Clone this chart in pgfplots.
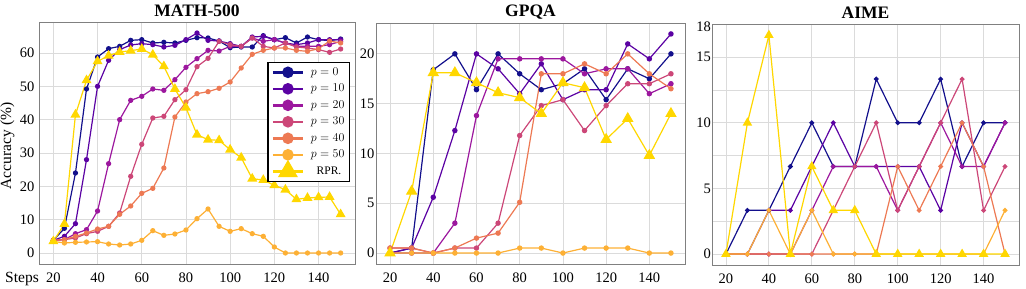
\documentclass[border=0pt]{standalone}
\usepackage{fontspec}
\setmainfont{Liberation Serif}
\usepackage{pgfplots}
\pgfplotsset{compat=1.18}
\usepackage{pgfplotstable}

\definecolor{c0}{HTML}{13108C}
\definecolor{c10}{HTML}{5B02A3}
\definecolor{c20}{HTML}{9C179E}
\definecolor{c30}{HTML}{CC4778}
\definecolor{c40}{HTML}{ED7953}
\definecolor{c50}{HTML}{FDB035}
\definecolor{cr}{HTML}{FFD700}

\pgfplotstableread{
x   p0   p10  p20  p30  p40  p50  rpr
20  3.8  3.8  3.8  3.8  3.8  3.5  3.5
25  7.4  5.0  4.0  4.0  4.0  3.0  8.7
30  24.0 8.8  5.8  4.5  5.0  3.2  41.5
35  49.2 28.0 7.0  5.8  6.0  3.3  51.8
40  58.8 50.0 12.6 6.5  7.2  3.4  57.5
45  61.3 57.8 26.8 8.0  8.0  2.7  59.2
50  62.0 61.0 40.0 12.0 11.6 2.4  60.3
55  63.8 62.4 45.8 23.0 14.1 2.7  60.7
60  64.0 62.8 47.0 32.6 17.9 3.8  61.2
65  63.0 62.5 49.2 40.5 19.4 6.7  59.5
70  63.2 61.8 48.8 41.0 25.5 5.3  56.0
75  63.0 62.3 52.0 46.0 40.8 5.7  49.2
80  63.8 64.0 55.7 49.0 45.3 6.9  43.6
85  64.6 66.0 58.3 55.9 47.8 10.3 35.5
90  64.5 63.8 60.8 58.4 48.4 13.2 34.0
95  63.6 63.6 60.6 63.5 49.4 8.0  33.8
100 61.6 62.8 62.0 62.5 51.3 6.5  31.0
105 61.8 62.0 62.0 62.0 55.5 7.3  28.6
110 61.8 64.8 64.5 64.5 59.6 5.8  22.3
115 65.2 65.0 63.5 62.0 60.8 5.0  21.9
120 64.0 64.0 64.0 61.5 61.5 1.8  20.3
125 64.6 63.0 63.0 63.0 61.5 0    19.0
130 63.0 62.5 62.0 61.8 60.8 0    16.1
135 64.8 63.0 62.0 61.5 60.5 0    16.5
140 64.0 64.0 62.0 61.0 61.3 0    16.7
145 63.7 64.0 62.5 60.2 63.6 0    16.8
150 64.2 64.0 63.5 61.2 63.0 0    11.6
}\mathdata

\pgfplotstableread{
x   p0   p10  p20  p30  p40  p50  rpr
20  0    0    0    0.5  0.5  0    0
30  0.5  0.5  0    0.5  0.5  0    6.2
40  18.4 5.6  0    0    0    0    18.1
50  20.0 12.3 3.0  0.5  0.5  0    18.1
60  16.4 20.0 13.8 0.5  1.5  0    17.1
70  20.0 18.5 19.5 3.0  2.0  0    16.1
80  18.0 16.0 19.5 11.8 5.1  0.5  15.6
90  16.4 19.0 19.5 14.8 18.0 0.5  14.0
100 17.0 15.4 19.5 15.4 18.0 0    17.1
110 18.5 16.4 18.0 12.3 19.0 0.5  16.6
120 15.4 16.4 18.5 14.8 18.0 0.5  11.4
130 18.5 21.0 18.5 17.0 20.0 0.5  13.5
140 17.5 19.5 16.0 17.0 18.0 0    9.8
150 20.0 22.0 17.0 18.0 16.5 0    14.0
}\gpqadata

\pgfplotstableread{
x   p0    p10   p20   p30   p40   p50   rpr
20  0     0     0     0     0     0     0
30  3.33  0     0     0     0     0     10
40  3.33  3.33  0     0     0     3.33  16.67
50  6.67  3.33  0     0     0     0     0
60  10    6.67  3.33  0     0     3.33  6.67
70  6.67  10    6.67  3.33  0     0     3.33
80  6.67  6.67  6.67  6.67  0     0     3.33
90  13.33 6.67  6.67  10    0     0     0
100 10    6.67  3.33  3.33  6.67  0     0
110 10    6.67  6.67  6.67  3.33  0     0
120 13.33 3.33  10    10    6.67  0     0
130 6.67  10    6.67  13.33 10    0     0
140 10    6.67  6.67  3.33  6.67  0     0
150 10    10    10    6.67  0     3.33  0
}\aimedata

\pgfplotsset{
  panel/.style={
    scale only axis, anchor=south west,
    xmin=13.5, xmax=156.5,
    xtick={20,40,...,140},
    grid=major,
    major grid style={draw=black!14, line width=0.8pt},
    minor grid style={draw=black!14, line width=0.8pt},
    axis line style={draw=black!50, line width=0.9pt},
    major tick length=0pt, minor tick length=0pt,
    tick style={draw=none},
    tick label style={font=\fontsize{14.5}{16}\selectfont},
    /pgf/number format/assume math mode=true,
    xticklabel style={anchor=base, yshift=-18.8pt},
  },
  ser/.style 2 args={#1, line width=1.2pt, mark=*, mark size=#2, mark options={solid}},
  tri/.style={cr, line width=1.2pt, mark=triangle*, mark size=#1, mark options={solid}},
  leg/.style={#1, line width=2.5pt, mark=*, mark size=4.5pt, mark options={solid, draw=#1, fill=#1}},
}

\begin{document}
\begin{tikzpicture}
\useasboundingbox (0pt,0pt) rectangle (1026pt,289pt);

% ---------------- MATH-500 ----------------
\begin{axis}[panel, at={(39pt,25pt)}, width=316pt, height=242pt,
  ymin=-3.3, ymax=69.3, ytick={0,10,...,60},
  yticklabel style={xshift=-1.2pt},
  legend cell align=left,
  legend image code/.code={
    \path[draw=none, fill=none] (0pt,-4pt) rectangle (30pt,4pt);
    \draw[overlay, fill=none, mark repeat=2, mark phase=2, #1] plot coordinates {(0pt,0pt) (15pt,0pt) (30pt,0pt)};
  },
  legend style={at={(1,1)}, anchor=north east, xshift=-5pt, yshift=-39.7pt,
    draw=black, line width=1.2pt,
    inner xsep=5pt, inner ysep=4.75pt, row sep=6pt,
    font=\fontsize{11.5}{13}\selectfont,
    nodes={inner xsep=0pt, inner ysep=0.5pt, text height=7.5pt, text depth=2pt},
    column sep=8pt},
]
\addplot[ser={c0}{2pt}, forget plot] table[x=x,y=p0] {\mathdata};
\addplot[ser={c10}{2pt}, forget plot] table[x=x,y=p10] {\mathdata};
\addplot[ser={c20}{2pt}, forget plot] table[x=x,y=p20] {\mathdata};
\addplot[ser={c30}{2pt}, forget plot] table[x=x,y=p30] {\mathdata};
\addplot[ser={c40}{2pt}, forget plot] table[x=x,y=p40] {\mathdata};
\addplot[ser={c50}{2pt}, forget plot] table[x=x,y=p50] {\mathdata};
\addplot[tri=4.6pt, forget plot] table[x=x,y=rpr] {\mathdata};
\addlegendimage{leg=c0}
\addlegendentry{$p=0$}
\addlegendimage{leg=c10}
\addlegendentry{$p=10$}
\addlegendimage{leg=c20}
\addlegendentry{$p=20$}
\addlegendimage{leg=c30}
\addlegendentry{$p=30$}
\addlegendimage{leg=c40}
\addlegendentry{$p=40$}
\addlegendimage{leg=c50}
\addlegendentry{$p=50$}
\addlegendimage{cr, line width=2.5pt, mark=triangle*, mark size=9pt, mark options={solid, draw=cr, fill=cr}}
\addlegendentry{\ \ RPR.}
\end{axis}

% ---------------- GPQA ----------------
\begin{axis}[panel, at={(376pt,25pt)}, width=309pt, height=241pt,
  ymin=-1.1, ymax=23.1, ytick={0,5,...,20},
  yticklabel style={xshift=1.8pt},
]
\addplot[ser={c0}{2.1pt}] table[x=x,y=p0] {\gpqadata};
\addplot[ser={c10}{2.1pt}] table[x=x,y=p10] {\gpqadata};
\addplot[ser={c20}{2.1pt}] table[x=x,y=p20] {\gpqadata};
\addplot[ser={c30}{2.1pt}] table[x=x,y=p30] {\gpqadata};
\addplot[ser={c40}{2.1pt}] table[x=x,y=p40] {\gpqadata};
\addplot[ser={c50}{2.1pt}] table[x=x,y=p50] {\gpqadata};
\addplot[tri=5.5pt] table[x=x,y=rpr] {\gpqadata};
\end{axis}

% ---------------- AIME ----------------
\begin{axis}[panel, at={(712pt,24pt)}, width=307pt, height=240.7pt,
  ymin=-0.833, ymax=17.5, ytick={0,5,10,15},
  minor ytick={2.5,7.5,12.5},
  grid=both,
  extra y ticks={17.35}, extra y tick labels={18},
  extra y tick style={grid=none},
  yticklabel style={xshift=2.3pt},
]
\addplot[ser={c0}{1.8pt}] table[x=x,y=p0] {\aimedata};
\addplot[ser={c10}{1.8pt}] table[x=x,y=p10] {\aimedata};
\addplot[ser={c20}{1.8pt}] table[x=x,y=p20] {\aimedata};
\addplot[ser={c30}{1.8pt}] table[x=x,y=p30] {\aimedata};
\addplot[ser={c40}{1.8pt}] table[x=x,y=p40] {\aimedata};
\addplot[ser={c50}{1.8pt}] table[x=x,y=p50] {\aimedata};
\addplot[tri=4.3pt] table[x=x,y=rpr] {\aimedata};
\end{axis}

% titles and labels
\node[font=\fontsize{17.5}{20}\selectfont\bfseries] at (197pt,278pt) {MATH-500};
\node[font=\fontsize{17.5}{20}\selectfont\bfseries] at (530.5pt,277pt) {GPQA};
\node[font=\fontsize{17.5}{20}\selectfont\bfseries] at (865.5pt,276.5pt) {AIME};
\node[rotate=90, font=\fontsize{15.5}{17}\selectfont] at (7.5pt,143pt) {Accuracy (\%)};
\node[anchor=base, font=\fontsize{15.5}{17}\selectfont] at (22pt,6.2pt) {Steps};
\end{tikzpicture}
\end{document}
